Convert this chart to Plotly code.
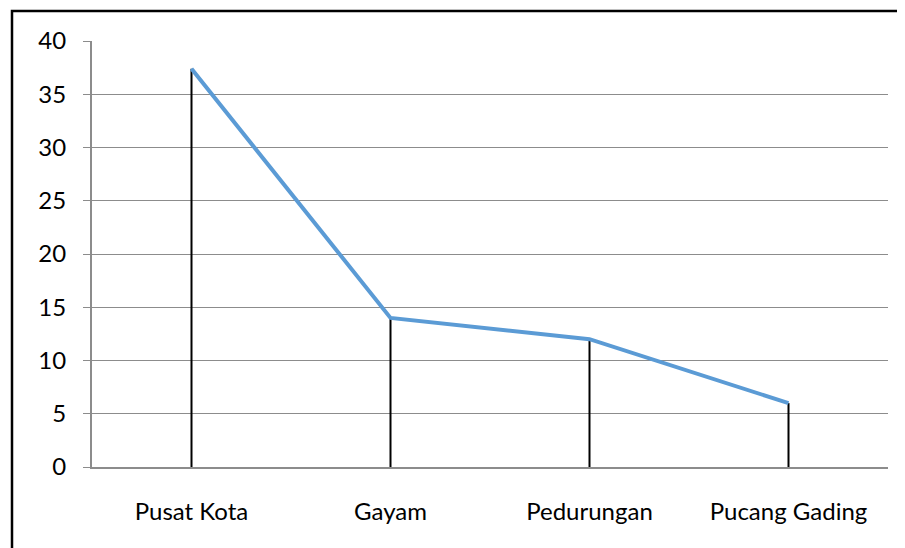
import plotly.graph_objects as go

categories = ["Pusat Kota", "Gayam", "Pedurungan", "Pucang Gading"]
values = [37.4, 14, 12, 6]
y_ticks = [0, 5, 10, 15, 20, 25, 30, 35, 40]

FONT = "Lato, Calibri, 'Open Sans', sans-serif"

fig = go.Figure()

# drop lines from each point to the axis
drop_x, drop_y = [], []
for c, v in zip(categories, values):
    drop_x += [c, c, None]
    drop_y += [0, v, None]
fig.add_trace(go.Scatter(x=drop_x, y=drop_y, mode="lines",
                         line=dict(color="black", width=2),
                         hoverinfo="skip", showlegend=False))

fig.add_trace(go.Scatter(x=categories, y=values, mode="lines",
                         line=dict(color="#5B9BD5", width=4),
                         showlegend=False))

# outer chart border (top and left edges visible)
fig.add_shape(type="path", xref="paper", yref="paper",
              path="M -0.1005 -0.4 L -0.1005 1.0704 L 1.2 1.0704",
              line=dict(color="black", width=2.5), layer="above")

fig.update_layout(
    width=897, height=540,
    margin=dict(l=84, r=17, t=33, b=81),
    paper_bgcolor="white", plot_bgcolor="white",
    font=dict(family=FONT, size=24, color="black"),
    showlegend=False,
    xaxis=dict(
        type="category", range=[-0.5, 3.5],
        showgrid=False, showline=True, linecolor="#8c8c8c", linewidth=2,
        ticks="", ticklabelstandoff=22,
        tickfont=dict(family=FONT, size=24, color="black"),
    ),
    yaxis=dict(
        range=[0, 40], tickvals=y_ticks,
        showgrid=True, gridcolor="#8c8c8c", gridwidth=1,
        showline=True, linecolor="#8c8c8c", linewidth=2,
        ticks="outside", ticklen=7, tickcolor="#8c8c8c", tickwidth=1,
        ticklabelstandoff=12, zeroline=False,
        tickfont=dict(family=FONT, size=24, color="black"),
    ),
)

fig.write_html("out.html")
